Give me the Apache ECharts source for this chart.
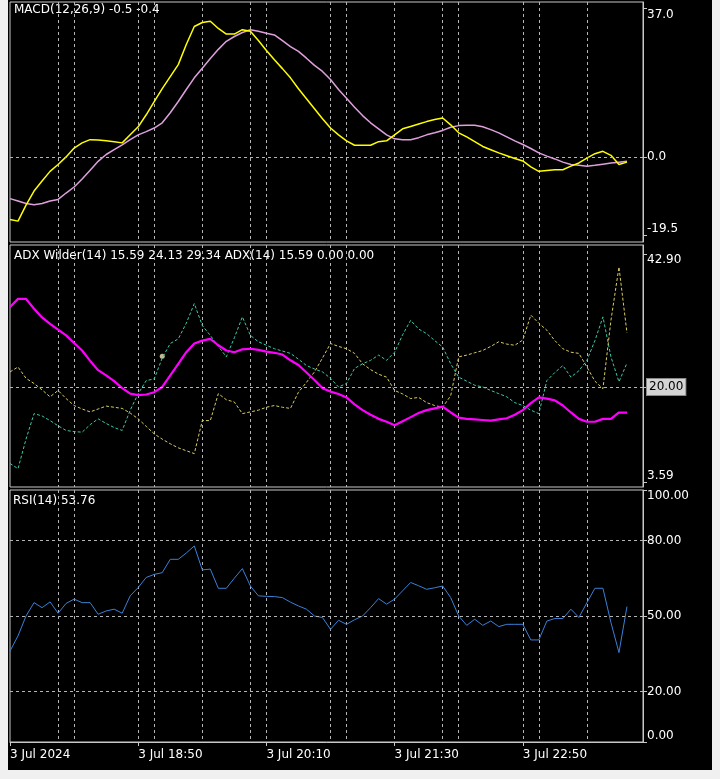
<!DOCTYPE html>
<html>
<head>
<meta charset="utf-8">
<script src="https://cdn.jsdelivr.net/npm/echarts@6/dist/echarts.min.js"></script>
<style>
  html, body { margin: 0; padding: 0; background: #f0f0f0; }
  #main { width: 720px; height: 779px; }
</style>
</head>
<body>
<div id="main"></div>
<script>
// 数据：5分钟K线，从 17:30 开始
var times = [];
for (var i = 0; i < 80; i++) {
  var m = 17 * 60 + 30 + i * 5;
  times.push('3 Jul ' + Math.floor(m / 60) + ':' + ('0' + (m % 60)).slice(-2));
}
times[0] = '3 Jul 2024';
var labelIdx = [0, 16, 32, 48, 64];
var gridIdx = [6, 8, 16, 18, 24, 30, 32, 40, 42, 48, 54, 56, 64, 66, 72];

var macdMain = [-15.6,-16,-12,-8.5,-6,-3.6,-1.9,0,2.2,3.5,4.3,4.2,4.0,3.8,3.5,5.5,7.5,10.5,13.8,17,
  20,23,28,32.5,33.5,33.8,32,30.6,30.6,31.7,31.3,29,26.5,24.2,22,19.7,17,14.5,12,9.5,
  7.2,5.5,4,2.9,2.9,2.9,3.8,4.0,5.5,7,7.6,8.2,8.8,9.3,9.7,8,6,5,3.8,2.6,
  1.8,1,0.3,-0.4,-1,-2.5,-3.6,-3.4,-3.2,-3.2,-2.3,-1.5,-0.3,0.8,1.4,0.4,-1.9,-1.3];
var macdSignal = [-10.4,-11,-11.6,-11.9,-11.6,-11,-10.6,-9,-7.5,-5.5,-3.3,-1.1,0.6,1.8,3,4.3,5.5,6.3,7.2,8.5,
  11,13.8,16.8,19.7,22.1,24.5,26.8,28.8,30,31,31.7,31.3,30.8,30.4,29,27.5,26.3,24.6,22.8,21.3,
  19.3,16.8,14.6,12.4,10.3,8.5,7,5.5,4.5,4.3,4.3,4.8,5.5,6,6.6,7.4,7.8,7.9,7.9,7.5,
  6.8,6,5,4,3.1,2.1,1,0.2,-0.5,-1.3,-1.9,-2.1,-2.3,-2.1,-1.8,-1.5,-1.3,-1.1];
var adx = [33.8,35.2,35.2,33.5,32,30.9,29.9,28.9,27.6,26.3,24.5,22.9,22,21,19.8,18.85,18.6,18.7,19.1,20,
  22,24,26,27.5,28,28.3,27.2,26.3,26,26.5,26.6,26.4,26.1,25.9,25.6,24.6,23.8,22.5,21.2,19.8,
  19.2,18.8,18.2,17,16,15.2,14.5,14,13.4,14.1,14.8,15.5,16,16.3,16.6,15.6,14.7,14.5,14.4,14.3,
  14.2,14.4,14.6,15.2,16,17.2,18.2,18,17.7,16.8,15.6,14.5,14,14,14.5,14.5,15.6,15.59];
var plusDI = [6.8,5.9,11,15.4,15,14.2,13.3,12.5,12.3,12.2,13.5,14.5,13.7,13,12.5,16,18.85,21.1,21.4,25,
  27.5,28.3,31,34.4,30.6,28.9,27,25.2,28.5,32.1,28.9,27.8,27.2,26.6,26.2,25.8,24.8,23.7,23.1,22.6,
  21.5,20,20.6,23.2,24,24.6,25.5,24.6,26,29,31.5,30,29.2,28,26.9,24,21.7,21,20.3,20,
  19.4,18.85,18.3,17.3,16.8,16,15.4,21.1,22.5,23.7,21.7,22.8,24.6,28,32.1,25.2,20.9,24.13];
var minusDI = [22.6,23.45,21.5,20.6,19.5,18.3,19.4,18,16.8,16.2,15.7,16.2,16.7,16.5,16.3,15.5,14.5,13.2,11.9,11,
  10.2,9.5,9,8.5,14.2,14.2,18.85,17.8,17.4,15.4,15.7,16,16.5,16.8,16.5,16.3,19.1,20.8,22.6,25,
  27.5,27,26.6,25.8,24,23,22.2,21.7,19.4,18.8,18,18.2,17.3,16.8,16.5,18.5,25.2,25.5,25.9,26.3,
  27,27.8,27.4,27.2,28.1,32.4,31,29.8,28,26.6,26,25.8,23.45,21,19.7,31.5,40.7,29.34];
var rsi = [36.1,42.1,50,55.3,53.3,55.6,51.1,55,56.7,55.3,55.3,50.7,52,52.7,51.1,58,61.3,65.3,66.5,67.2,
  72.5,72.5,75,77.8,68.3,68.6,61,61,65,68.8,61.9,58,57.8,57.7,57.3,55.5,54,52.7,50,49.4,
  44.7,48.3,46.7,48.5,50,53.3,56.9,54.7,56.7,60,63.3,62,60.6,61.2,61.9,57.3,50,46.3,48.7,46.3,
  48,45.8,46.7,46.7,46.7,40.5,40.5,48,49,49,52.7,49.4,55.3,61,61,47.4,35.5,53.76];
var macdTicks = [-19.5, 0, 37];
var adxTicks = [3.59, 20, 42.9];
var rsiTicks = [0, 20, 50, 80, 100];

var chart = echarts.init(document.getElementById('main'));
var font = 'DejaVu Sans';
var dash = { color: '#b4b4b4', type: [3, 3], width: 1 };

function xAxis(gi, showLabel) {
  return {
    type: 'category', gridIndex: gi, data: times, boundaryGap: false,
    axisLine: { show: showLabel, lineStyle: { color: '#c8c8c8' } },
    axisTick: { show: showLabel, length: 4, interval: function (i) { return labelIdx.indexOf(i) >= 0; }, lineStyle: { color: '#c8c8c8' } },
    axisLabel: {
      show: showLabel, color: '#fff', fontFamily: font, fontSize: 12, align: 'left', margin: 7,
      interval: function (i) { return labelIdx.indexOf(i) >= 0; }
    },
    splitLine: { show: true, interval: function (i) { return gridIdx.indexOf(i) >= 0; }, lineStyle: dash }
  };
}
function yAxis(gi, min, max, ticks, fmt) {
  return {
    type: 'value', gridIndex: gi, position: 'right', min: min, max: max,
    axisLine: { show: true, lineStyle: { color: '#c8c8c8' } },
    axisTick: { show: true, length: 4, customValues: ticks, lineStyle: { color: '#c8c8c8' } },
    axisLabel: {
      color: '#fff', fontFamily: font, fontSize: 12, margin: 4, customValues: ticks,
      formatter: fmt, verticalAlignMinLabel: 'bottom', verticalAlignMaxLabel: 'top',
      rich: { box: { backgroundColor: '#d4d4d4', color: '#000', padding: [2, 2], fontFamily: font, fontSize: 12, borderColor: '#888', borderWidth: 1 } }
    },
    splitLine: { show: false }
  };
}
function hline(vals) {
  return { silent: true, symbol: 'none', label: { show: false }, lineStyle: dash,
    data: vals.map(function (v) { return { yAxis: v }; }) };
}
function line(name, data, xi, color, width, type, extra) {
  var s = { name: name, type: 'line', xAxisIndex: xi, yAxisIndex: xi, data: data, symbol: 'none',
    lineStyle: { color: color, width: width, type: type || 'solid' }, z: 3 };
  for (var k in extra) s[k] = extra[k];
  return s;
}

var option = {
  backgroundColor: '#f0f0f0',
  animation: false,
  graphic: [
    { type: 'rect', shape: { x: 8, y: 0, width: 704, height: 770 }, style: { fill: '#000' }, z: -10 },
    { type: 'text', left: 14, top: 4, style: { text: 'MACD(12,26,9) -0.5 -0.4', fill: '#fff', font: '12px ' + font } },
    { type: 'text', left: 14, top: 250, style: { text: 'ADX Wilder(14) 15.59 24.13 29.34 ADX(14) 15.59 0.00 0.00', fill: '#fff', font: '12px ' + font } },
    { type: 'text', left: 13, top: 495, style: { text: 'RSI(14) 53.76', fill: '#fff', font: '12px ' + font } }
  ],
  grid: [
    { left: 10, right: 77, top: 2, height: 240, show: true, backgroundColor: '#000', borderColor: '#c8c8c8' },
    { left: 10, right: 77, top: 245, height: 242, show: true, backgroundColor: '#000', borderColor: '#c8c8c8' },
    { left: 10, right: 77, top: 490, height: 252, show: true, backgroundColor: '#000', borderColor: '#c8c8c8' }
  ],
  xAxis: [xAxis(0, false), xAxis(1, false), xAxis(2, true)],
  yAxis: [
    yAxis(0, -21.2, 38.6, macdTicks, function (v) { return v.toFixed(1); }),
    yAxis(1, 2.74, 44.5, adxTicks, function (v) { return v === 20 ? '{box|20.00}' : v.toFixed(2); }),
    yAxis(2, 0, 100, rsiTicks, function (v) { return v.toFixed(2); })
  ],
  series: [
    line('Signal', macdSignal, 0, '#dda0dd', 1.5, null, { markLine: hline([0]) }),
    line('MACD', macdMain, 0, '#ffff00', 1.5),
    line('+DI', plusDI, 1, '#3cc8a8', 1, [3, 2], { markLine: hline([20]) }),
    line('-DI', minusDI, 1, '#d8cc60', 1, [3, 2]),
    line('ADX', adx, 1, '#ff00ff', 2.2),
    { type: 'scatter', xAxisIndex: 1, yAxisIndex: 1, data: [[19, 25.3]], symbolSize: 5, itemStyle: { color: '#f5e6b0' } },
    line('RSI', rsi, 2, '#3a80d8', 1, null, { markLine: hline([20, 50, 80]) })
  ]
};
chart.setOption(option);
</script>
</body>
</html>
